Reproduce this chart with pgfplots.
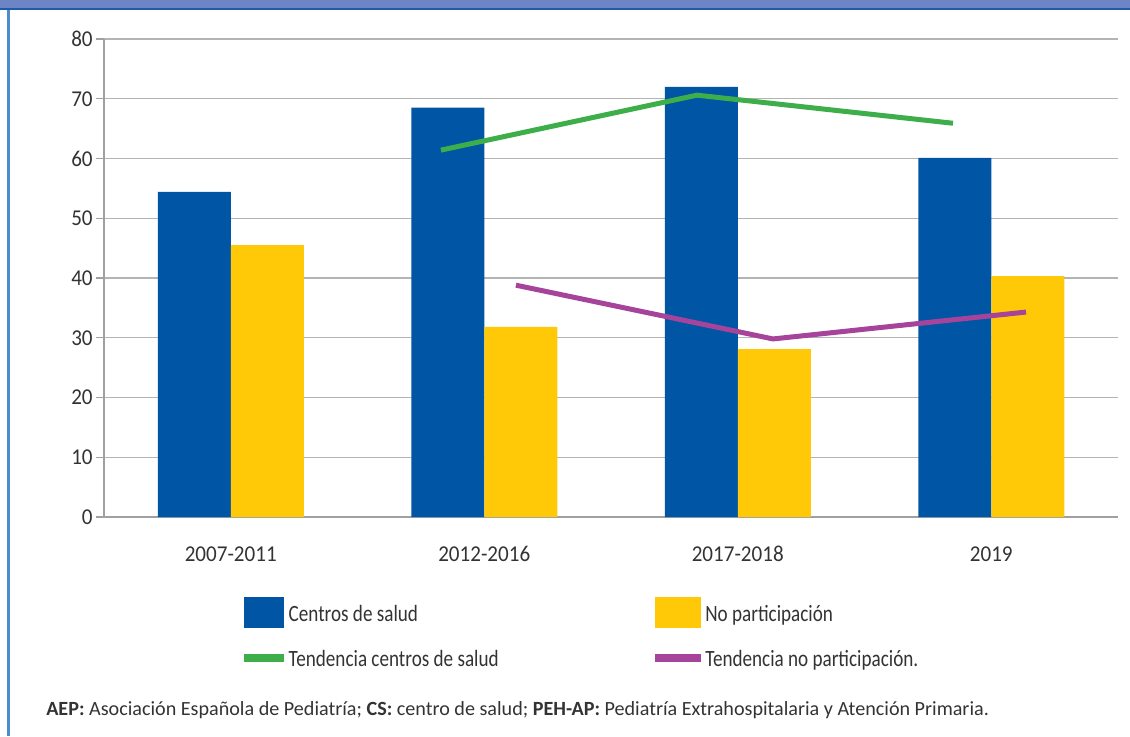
\documentclass[border=0pt]{standalone}
\usepackage{pgfplots}
\pgfplotsset{compat=1.18}
\usepackage{fontspec}
\setmainfont{Carlito}[FakeStretch=0.82]
\newfontfamily\tickfont{Carlito}[FakeStretch=0.93]
\newfontfamily\footfont{Carlito}
\definecolor{cblue}{HTML}{0055A5}
\definecolor{cyellow}{HTML}{FFC908}
\definecolor{cgreen}{HTML}{3DAE49}
\definecolor{cmag}{HTML}{A5449A}
\definecolor{gridgray}{HTML}{B4B4B4}
\definecolor{axgray}{HTML}{A0A0A0}
\definecolor{txt}{HTML}{333333}
\definecolor{hdr}{HTML}{6D85C5}
\definecolor{hdrline}{HTML}{1F5BA6}
\definecolor{leftb}{HTML}{4F8BCB}
\begin{document}
\begin{tikzpicture}[x=0.75pt,y=0.75pt]
\path[use as bounding box] (0,0) rectangle (1130,736);
\fill[hdr] (0,736) rectangle (1130,728);
\fill[hdrline] (0,728) rectangle (1130,725.5);
\fill[leftb] (7,0) rectangle (9.5,726);
\begin{axis}[
  at={(78pt,164.25pt)}, anchor=south west,
  scale only axis, width=760.5pt, height=358.5pt,
  xmin=-0.5, xmax=3.5, ymin=0, ymax=80,
  axis x line*=bottom, axis y line*=left,
  axis line style={draw=axgray, line width=1pt, -},
  ytick={0,10,...,80},
  ymajorgrids, grid style={gridgray, line width=1.1pt},
  xtick={0,1,2,3},
  xticklabels={2007-2011,2012-2016,2017-2018,2019},
  major x tick style={draw=none},
  extra x ticks={-0.5,0.5,1.5,2.5,3.5},
  extra x tick labels={},
  extra x tick style={grid=none, tick align=outside, major tick length=6pt, tick style={draw=axgray, line width=1pt}},
  tick align=outside,
  major tick length=6pt,
  tick style={draw=axgray, line width=1pt},
  /pgf/number format/assume math mode=true,
  tick label style={font=\tickfont\fontsize{17}{20}\selectfont, text=txt},
  yticklabel style={anchor=east, xshift=1pt},
  xticklabel style={anchor=base, yshift=-27.5pt},
  legend columns=2,
  legend style={at={(0.1381,-0.1674)}, anchor=north west, draw=none, fill=none,
    inner sep=0pt, outer sep=0pt, row sep=10.5pt,
    font=\fontsize{17.5}{20}\selectfont, text=txt,
    nodes={inner sep=0pt, text height=18pt, text depth=5.25pt},
    /tikz/every odd column/.append style={column sep=3.5pt}},
  legend cell align=left,
]
\addplot[ybar, bar width=54.75pt, bar shift=-27.375pt, fill=cblue, draw=none,
  legend image code/.code={\fill[cblue, draw=none] (0pt,-11.625pt) rectangle (30pt,11.625pt);}]
  coordinates {(0,54.4) (1,68.5) (2,72.0) (3,60.1)};
\addlegendentry{\makebox[274.5pt][l]{Centros de salud}}
\addplot[ybar, bar width=54.75pt, bar shift=27.375pt, fill=cyellow, draw=none,
  legend image code/.code={\fill[cyellow, draw=none] (0pt,-11.625pt) rectangle (34.5pt,11.625pt);}]
  coordinates {(0,45.5) (1,31.8) (2,28.1) (3,40.3)};
\addlegendentry{No participación}
\addplot[cgreen, line width=3.75pt, line cap=butt, line join=miter,
  legend image code/.code={\path[draw=none, fill=none] (0pt,-11.625pt) rectangle (30pt,11.625pt); \fill[cgreen, draw=none] (0pt,-3pt) rectangle (30pt,3pt);}]
  coordinates {(0.829,61.4) (1.839,70.6) (2.849,65.9)};
\addlegendentry{\makebox[274.5pt][l]{Tendencia centros de salud}}
\addplot[cmag, line width=3.75pt, line cap=butt, line join=miter,
  legend image code/.code={\path[draw=none, fill=none] (0pt,-11.625pt) rectangle (34.5pt,11.625pt); \fill[cmag, draw=none] (0pt,-3pt) rectangle (34.5pt,3pt);}]
  coordinates {(1.125,38.8) (2.139,29.8) (3.137,34.3)};
\addlegendentry{Tendencia no participación.}
\end{axis}
\node[anchor=base west, inner sep=0pt, text=txt, font=\footfont\fontsize{15.1}{18}\selectfont] at (46,21)
  {\textbf{AEP:} Asociación Española de Pediatría; \textbf{CS:} centro de salud; \textbf{PEH-AP:} Pediatría Extrahospitalaria y Atención Primaria.};
\end{tikzpicture}
\end{document}
